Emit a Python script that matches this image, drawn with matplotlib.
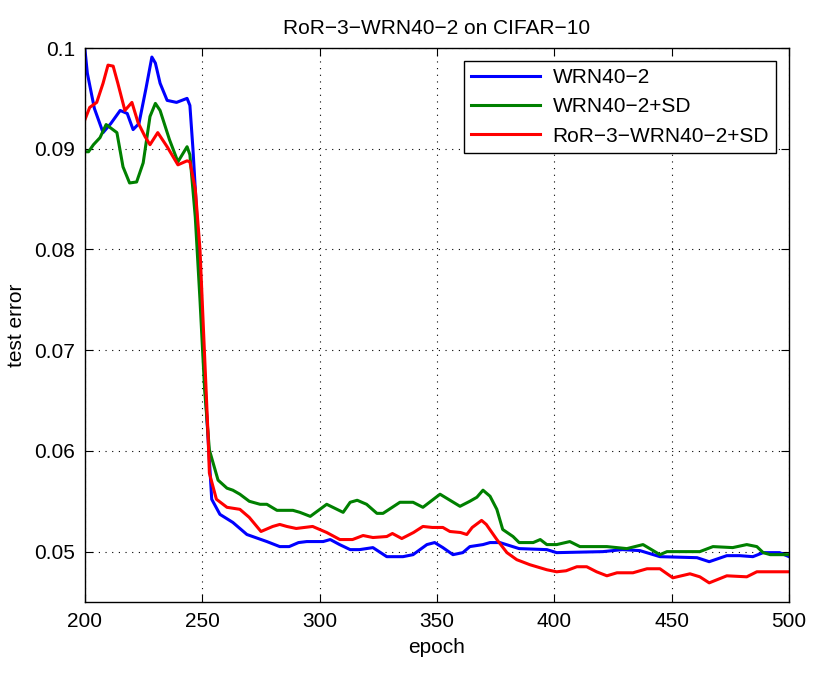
import matplotlib.pyplot as plt

plt.rcParams['font.family'] = ['Liberation Sans', 'DejaVu Sans']

# WRN40-2
wrn_epoch = [200, 201, 204, 207.7, 211, 215, 218, 220.5, 223, 226, 228.5, 230, 232, 235, 239,
             243.5, 244.7, 246, 248, 250, 252, 254, 257.5, 263, 269, 277.5, 283, 287, 291, 294.5,
             301.5, 304.5, 308.5, 313, 317, 322.7, 328.6, 335.5, 339.8, 345.7, 349, 352.5, 356.8,
             361, 364, 369.6, 372.6, 376.8, 385, 396.8, 401, 420.7, 429, 436.5, 445, 460.8, 466,
             473.5, 479, 484.6, 489, 496, 500]
wrn_err = [0.0998, 0.0975, 0.094, 0.0916, 0.0925, 0.0938, 0.0935, 0.0919, 0.0925, 0.096, 0.0991,
           0.0985, 0.0965, 0.0948, 0.0946, 0.095, 0.0943, 0.09, 0.082, 0.072, 0.063, 0.0552, 0.0537,
           0.0529, 0.0517, 0.051, 0.0505, 0.0505, 0.0509, 0.051, 0.051, 0.0512, 0.0507, 0.0502,
           0.0502, 0.0504, 0.0495, 0.0495, 0.0497, 0.0507, 0.0509, 0.0504, 0.0497, 0.0499, 0.0505,
           0.0507, 0.0509, 0.0509, 0.0503, 0.0502, 0.0499, 0.05, 0.0502, 0.0501, 0.0495, 0.0494,
           0.049, 0.0496, 0.0496, 0.0495, 0.0499, 0.0499, 0.0495]

# WRN40-2+SD
sd_epoch = [200, 201.5, 203.6, 206.4, 209, 213.6, 216.2, 219, 222, 224.8, 227.7, 230, 232, 236,
            239.6, 243.5, 244.7, 247, 249, 251, 253, 256.7, 260.5, 263, 266, 270, 274.6, 277.5,
            281.8, 288.6, 291.6, 296, 303, 310, 313, 316, 320, 324.4, 327, 334.2, 339.8, 344,
            351.3, 359.8, 364, 367, 369.6, 372.6, 375.5, 378, 382.4, 385, 391, 394, 396.8, 401,
            406.6, 410.9, 422.4, 430.9, 437.8, 445, 448, 462, 467.6, 476, 482, 486.3, 489, 492, 500]
sd_err = [0.0897, 0.0897, 0.0904, 0.0911, 0.0924, 0.0916, 0.0882, 0.0866, 0.0867, 0.0886, 0.0932,
          0.0945, 0.0938, 0.0909, 0.0887, 0.0902, 0.0894, 0.0832, 0.075, 0.066, 0.0601, 0.0571,
          0.0563, 0.0561, 0.0557, 0.055, 0.0547, 0.0547, 0.0541, 0.0541, 0.0539, 0.0535, 0.0547,
          0.0539, 0.0549, 0.0551, 0.0547, 0.0538, 0.0538, 0.0549, 0.0549, 0.0544, 0.0557, 0.0545,
          0.055, 0.0554, 0.0561, 0.0555, 0.0542, 0.0522, 0.0515, 0.0509, 0.0509, 0.0512, 0.0507,
          0.0507, 0.051, 0.0505, 0.0505, 0.0503, 0.0507, 0.0497, 0.05, 0.05, 0.0505, 0.0504,
          0.0507, 0.0505, 0.0499, 0.0497, 0.0497]

# RoR-3-WRN40-2+SD
ror_epoch = [200, 202, 205, 207.7, 209.8, 212, 214, 217, 220, 222.6, 225.6, 227.7, 231, 235,
             239.6, 243.5, 244.7, 247, 249, 252.4, 253, 256, 260.5, 266, 270, 275, 280, 283, 286,
             290, 297, 303, 308.6, 314, 318.5, 322.7, 328.6, 331, 335, 340, 344, 348, 352.5,
             355.5, 360, 362.7, 365, 369, 371, 375.5, 379.8, 384, 389.6, 396.8, 401, 405, 409.6,
             413.8, 418, 422.4, 426.7, 433.5, 439.5, 445, 450.5, 457.8, 462, 466, 473.5, 482,
             486.3, 500]
ror_err = [0.0929, 0.0941, 0.0946, 0.0965, 0.0983, 0.0982, 0.0965, 0.0938, 0.0946, 0.0926, 0.0912,
           0.0904, 0.0916, 0.0902, 0.0884, 0.0888, 0.0887, 0.086, 0.08, 0.0618, 0.0578, 0.0552,
           0.0544, 0.0542, 0.0534, 0.052, 0.0525, 0.0527, 0.0525, 0.0523, 0.0525, 0.0519, 0.0512,
           0.0512, 0.0516, 0.0514, 0.0515, 0.0518, 0.0513, 0.0519, 0.0525, 0.0524, 0.0524, 0.052,
           0.0519, 0.0517, 0.0524, 0.0531, 0.0527, 0.0512, 0.0499, 0.0492, 0.0487, 0.0482, 0.048,
           0.0481, 0.0485, 0.0485, 0.048, 0.0476, 0.0479, 0.0479, 0.0483, 0.0483, 0.0474, 0.0478,
           0.0475, 0.0469, 0.0476, 0.0475, 0.048, 0.048]

xticks = [200, 250, 300, 350, 400, 450, 500]
yticks = [0.05, 0.06, 0.07, 0.08, 0.09, 0.1]
yticklabels = ['0.05', '0.06', '0.07', '0.08', '0.09', '0.1']

fig = plt.figure(figsize=(8.3, 6.78), dpi=100)
ax = fig.add_axes([0.1024, 0.1121, 0.8482, 0.8171])

ax.plot(wrn_epoch, wrn_err, color='#0000ff', lw=2.2, label='WRN40\u22122')
ax.plot(sd_epoch, sd_err, color='#008000', lw=2.2, label='WRN40\u22122+SD')
ax.plot(ror_epoch, ror_err, color='#ff0000', lw=2.2, label='RoR\u22123\u2212WRN40\u22122+SD')

ax.set_xlim(200, 500)
ax.set_ylim(0.045, 0.1)
ax.set_xticks(xticks)
ax.set_yticks(yticks)
ax.set_yticklabels(yticklabels)
ax.tick_params(direction='in', top=True, right=True, labelsize=15, length=6, pad=7)
ax.grid(True, color='black', linestyle=(0, (1, 5)), linewidth=0.8)
for s in ax.spines.values():
    s.set_linewidth(1)

ax.set_xlabel('epoch', fontsize=15, labelpad=5)
ax.set_ylabel('test error', fontsize=15, labelpad=6)
ax.set_title('RoR\u22123\u2212WRN40\u22122 on CIFAR\u221210', fontsize=15, pad=10)

leg = ax.legend(loc='upper right', fontsize=15, fancybox=False, framealpha=1,
                edgecolor='black', borderaxespad=0.6, handlelength=3.3, labelspacing=0.5,
                borderpad=0.35, handletextpad=0.6)
leg.get_frame().set_linewidth(1)

fig.savefig('out.png', dpi=100)
